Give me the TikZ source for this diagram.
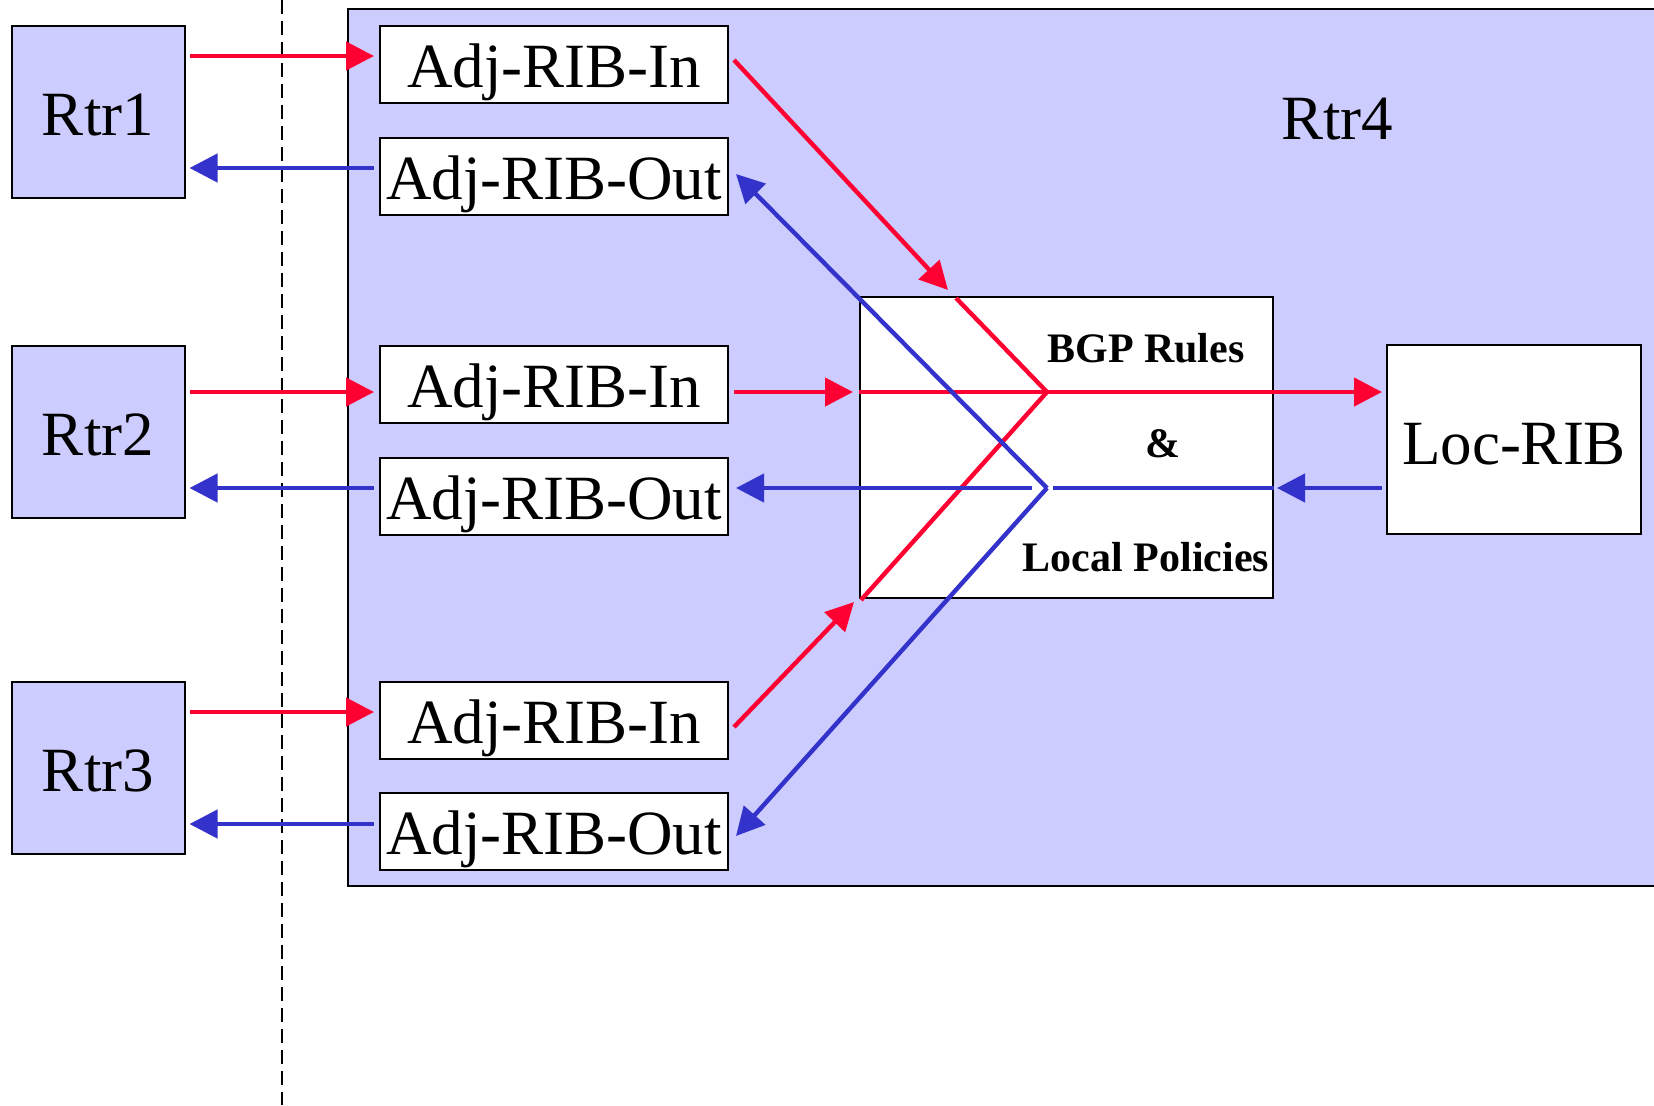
\documentclass[tikz,border=0pt]{standalone}
\usepackage{fontspec}
\setmainfont{Liberation Serif}
\usetikzlibrary{arrows.meta,calc}
\definecolor{rred}{RGB}{255,0,51}
\definecolor{bblue}{RGB}{51,51,204}
\definecolor{lav}{RGB}{204,204,255}
\tikzset{
  bigtxt/.style={font=\fontsize{31.5}{36}\selectfont},
  boldtxt/.style={font=\fontsize{21}{25}\selectfont\bfseries},
  rtrbox/.style={draw=black, line width=1pt, fill=lav, inner sep=0pt, minimum width=86.5pt, minimum height=86pt, bigtxt, text height=23pt, text depth=0pt},
  ribbox/.style={draw=black, line width=1pt, fill=white, inner sep=0pt, minimum width=174pt, minimum height=38.5pt, bigtxt, text height=23pt, text depth=0pt},
  ra/.style={draw=rred, line width=2.2pt, -{Triangle[length=14pt,width=14pt]}},
  ba/.style={draw=bblue, line width=2.2pt, -{Triangle[length=14pt,width=14pt]}},
  rl/.style={draw=rred, line width=2.2pt},
  bl/.style={draw=bblue, line width=2.2pt},
}
\begin{document}
\begin{tikzpicture}[x=0.5pt,y=-0.5pt]
\useasboundingbox (0,0) rectangle (1654,1105);
\fill[white] (0,0) rectangle (1654,1105);
% Rtr4 big box
\draw[line width=1pt, fill=lav] (348,9) rectangle (1680,886);
\node[bigtxt] (rtr4) at (1337,119) {Rtr4};
% dashed boundary
\draw[line width=1pt, dash pattern=on 7pt off 3.5pt] (282,0) -- (282,1105);
% routers
\node[rtrbox] (rtr1) at (98,112) {Rtr1};
\node[rtrbox] (rtr2) at (98,432) {Rtr2};
\node[rtrbox] (rtr3) at (98,768) {Rtr3};
% RIBs
\node[ribbox] (in1)  at (554,64)  {Adj-RIB-In};
\node[ribbox] (out1) at (554,176) {Adj-RIB-Out};
\node[ribbox] (in2)  at (554,384) {Adj-RIB-In};
\node[ribbox] (out2) at (554,496) {Adj-RIB-Out};
\node[ribbox] (in3)  at (554,720) {Adj-RIB-In};
\node[ribbox] (out3) at (554,831) {Adj-RIB-Out};
% decision box
\node[draw=black, line width=1pt, fill=white, minimum width=206.5pt, minimum height=150.5pt, inner sep=0pt] (ctr) at (1066.5,447.5) {};
\node[boldtxt] (bgp) at (1146,348) {BGP Rules};
\node[boldtxt] (amp) at (1163,444) {\&};
\node[boldtxt] (lp)  at (1146,557) {Local Policies};
% Loc-RIB
\node[draw=black, line width=1pt, fill=white, minimum width=127pt, minimum height=94.5pt, inner sep=0pt, bigtxt, text height=25pt, text depth=0pt] (loc) at (1514,439.5) {Loc-RIB};
% helper coordinates
\coordinate (rj) at (1047,392);
\coordinate (bj) at (1047,488);
\coordinate (y1r) at (0,56);
\coordinate (y1b) at (0,168);
\coordinate (y2r) at (0,392);
\coordinate (y2b) at (0,488);
\coordinate (y3r) at (0,712);
\coordinate (y3b) at (0,824);
% router <-> Adj-RIB arrows
\draw[ra, shorten <=2pt, shorten >=2.5pt] (rtr1.east |- y1r) -- (in1.west |- y1r);
\draw[ba, shorten <=2.5pt, shorten >=2pt] (out1.west |- y1b) -- (rtr1.east |- y1b);
\draw[ra, shorten <=2pt, shorten >=2.5pt] (rtr2.east |- y2r) -- (in2.west |- y2r);
\draw[ba, shorten <=2.5pt, shorten >=2pt] (out2.west |- y2b) -- (rtr2.east |- y2b);
\draw[ra, shorten <=2pt, shorten >=2.5pt] (rtr3.east |- y3r) -- (in3.west |- y3r);
\draw[ba, shorten <=2.5pt, shorten >=2pt] (out3.west |- y3b) -- (rtr3.east |- y3b);
% red inputs into decision box
\draw[ra] ([shift={(5,-4)}]in1.east) -- ([shift={(89,-6)}]ctr.north west);
\draw[rl] ([shift={(97,2)}]ctr.north west) -- (rj);
\draw[ra, shorten <=2.5pt, shorten >=3pt] (in2.east |- rj) -- (ctr.west |- rj);
\draw[ra] ([shift={(5,7)}]in3.east) -- ([shift={(-5,3)}]ctr.south west);
\draw[rl] ([shift={(2,1)}]ctr.south west) -- (rj);
\draw[ra, shorten >=2pt] (ctr.west |- rj) -- (loc.west |- rj);
% blue outputs
\draw[ba, shorten <=2pt, shorten >=1.5pt] (loc.west |- bj) -- (ctr.east |- bj);
\draw[bl] (ctr.east |- bj) -- ([shift={(6,0)}]bj);
\draw[ba, shorten >=3.5pt] ([shift={(-15,0)}]bj) -- (out2.east |- bj);
\draw[ba] (bj) -- ([shift={(7,-2)}]out1.east);
\draw[ba] (bj) -- ([shift={(7,5)}]out3.east);
\end{tikzpicture}
\end{document}
